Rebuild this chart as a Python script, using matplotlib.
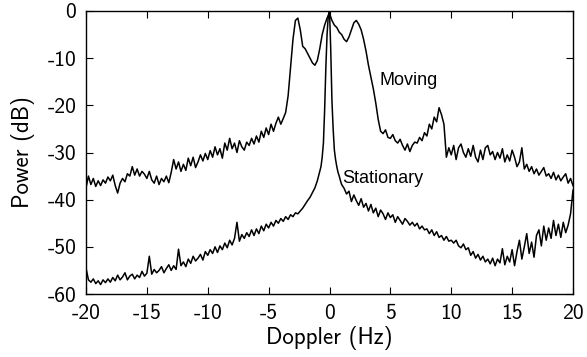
import numpy as np
import matplotlib
matplotlib.use("Agg")
import matplotlib.pyplot as plt

# ---- data ----
moving_x = np.round(np.arange(-20.0, 20.0001, 0.2), 2)
moving_db = [
    -37.5, -35.0, -36.8, -35.5, -37.2, -36.0, -37.0, -35.8, -36.5, -35.2,
    -36.0, -34.8, -37.0, -38.6, -36.5, -35.5, -36.2, -34.5, -35.0, -33.0,
    -34.8, -33.5, -35.0, -34.0, -34.6, -35.5, -34.0, -35.8, -36.5, -35.0,
    -36.8, -35.5, -36.2, -35.0, -36.4, -34.2, -31.5, -33.5, -32.0, -34.0,
    -32.5, -33.8, -31.2, -32.8, -31.0, -33.2, -32.0, -30.5, -31.8, -30.2,
    -31.5, -29.6, -31.0, -28.8, -30.5, -29.2, -31.2, -28.0, -29.5, -27.0,
    -29.2, -28.0, -30.0, -27.5, -28.8, -29.5, -27.8, -28.5, -27.0, -28.2,
    -26.5, -27.8, -25.5, -26.8, -24.8, -26.2, -24.0, -25.5, -23.8, -22.5,
    -24.0, -22.8, -21.5, -18.0, -12.0, -6.0, -2.0, -1.5, -4.0, -7.5,
    -8.0, -9.0, -10.0, -11.0, -11.5, -10.5, -8.0, -5.0, -3.0, -1.5,
    -0.5, -2.0, -3.0, -3.5, -4.5, -5.0, -6.0, -6.5, -5.5, -4.0,
    -2.5, -2.0, -2.8, -4.0, -6.0, -8.5, -11.5, -14.0, -16.5, -19.5,
    -23.0, -25.5, -26.0, -25.2, -26.8, -27.0, -26.2, -27.5, -28.0, -27.2,
    -28.5, -29.5, -28.2, -29.8, -28.5, -27.8, -28.0, -26.8, -27.5, -25.8,
    -26.5, -24.0, -25.0, -22.5, -23.5, -20.5, -22.0, -24.0, -31.0, -29.0,
    -30.5, -28.5, -31.5, -29.0, -28.2, -30.0, -31.0, -29.2, -30.8, -28.5,
    -31.0, -32.0, -29.5, -31.5, -29.0, -28.5, -30.5, -29.8, -31.5, -30.0,
    -31.2, -29.2, -32.0, -30.5, -31.8, -29.5, -31.0, -33.0, -32.0, -29.0,
    -33.5, -32.5, -34.0, -33.0, -34.5, -33.5, -34.8, -34.0, -33.2, -35.0,
    -34.5, -35.5, -34.2, -35.8, -34.8, -36.0, -35.2, -34.5, -36.5, -35.5,
    -37.0,
]

stat_x = np.round(np.concatenate([
    np.arange(-20.0, -1.19, 0.2),
    np.arange(-1.0, 1.001, 0.1),
    np.arange(1.2, 20.0001, 0.2),
]), 2)
stat_db = [
    -54.5, -57.0, -57.5, -56.8, -57.8, -57.2, -58.0, -57.0, -57.6, -56.8,
    -57.5, -56.5, -57.2, -56.0, -57.0, -56.4, -55.5, -57.0, -56.2, -55.8,
    -56.8, -56.0, -56.5, -55.2, -56.2, -55.6, -52.0, -55.8, -54.8, -55.5,
    -55.0, -54.2, -55.5, -54.6, -53.8, -55.0, -54.0, -54.8, -50.5, -54.0,
    -53.2, -54.2, -52.6, -53.5, -52.0, -53.0, -52.4, -51.6, -52.8, -51.0,
    -51.8, -50.6, -51.4, -50.0, -51.2, -49.8, -50.6, -49.2, -50.2, -48.6,
    -49.6, -48.2, -44.8, -48.8, -47.4, -48.2, -47.0, -47.8, -46.4, -47.6,
    -46.2, -47.2, -45.6, -46.6, -45.2, -46.0, -44.8, -45.6, -44.4, -45.0,
    -44.0, -44.6, -43.6, -44.2, -43.2, -43.6, -42.8, -43.0, -42.4, -41.8,
    -41.0, -40.2, -39.5, -38.5, -37.5,
    -36.0, -35.0, -34.0, -33.0, -31.0, -28.0, -21.0, -12.0, -5.0, -1.0,
    0.0,
    -8.0, -19.0, -25.0, -29.5, -31.5, -33.0, -34.2, -35.0, -36.0, -36.8,
    -37.6, -38.8, -38.2, -40.4, -39.0, -40.2, -41.2, -39.8, -41.6, -40.8,
    -42.4, -41.0, -42.8, -41.8, -43.6, -42.2, -43.0, -44.2, -42.8, -43.8,
    -43.2, -44.8, -43.6, -44.4, -45.2, -44.0, -44.6, -45.4, -44.8, -45.6,
    -45.0, -46.2, -45.6, -46.4, -46.2, -47.2, -46.4, -47.6, -46.8, -48.0,
    -47.6, -48.6, -47.8, -48.8, -48.6, -49.2, -48.6, -49.8, -50.2, -49.4,
    -50.6, -50.2, -51.8, -51.0, -52.4, -51.6, -52.8, -52.0, -53.2, -52.6,
    -53.6, -52.4, -54.0, -52.6, -53.4, -50.4, -53.8, -52.0, -53.2, -50.6,
    -54.0, -51.0, -48.6, -52.6, -50.0, -47.2, -51.4, -49.0, -52.2, -47.6,
    -46.4, -49.8, -45.6, -48.6, -46.0, -48.2, -44.4, -47.6, -45.2, -48.0,
    -44.8, -47.0, -45.4, -43.0, -38.0,
]

x_ticks = [-20, -15, -10, -5, 0, 5, 10, 15, 20]
y_ticks = [0, -10, -20, -30, -40, -50, -60]
label_moving = "Moving"
label_stationary = "Stationary"

# ---- plot ----
plt.rcParams['axes.unicode_minus'] = False
fig = plt.figure(figsize=(5.87, 3.57), dpi=100)
ax = fig.add_axes([86/587, 1-294/357, (573-86)/587, (294-11)/357])

ax.plot(moving_x, moving_db, color='black', lw=1.1)
ax.plot(stat_x, stat_db, color='black', lw=1.1)

ax.set_xlim(-20, 20)
ax.set_ylim(-60, 0)
ax.set_xticks(x_ticks)
ax.set_yticks(y_ticks)
tickfont = dict(family='cmss10', size=15.5)
ax.set_xticklabels([str(t) for t in x_ticks], **tickfont)
ax.set_yticklabels([str(t) for t in y_ticks], **tickfont)
ax.tick_params(direction='in', length=5, top=True, right=True, width=0.8)
ax.tick_params(axis='x', pad=7)
ax.tick_params(axis='y', pad=7)
for s in ax.spines.values():
    s.set_linewidth(1.0)

ax.set_xlabel("Doppler (Hz)", family='cmss10', size=16.5, labelpad=2)
ax.set_ylabel("Power (dB)", family='cmss10', size=16.5, labelpad=9)

ax.text(4.1, -14.7, label_moving, family='Liberation Sans', size=13, va='center', ha='left')
ax.text(1.05, -35.5, label_stationary, family='Liberation Sans', size=13, va='center', ha='left')

fig.savefig("out.png", dpi=100)
